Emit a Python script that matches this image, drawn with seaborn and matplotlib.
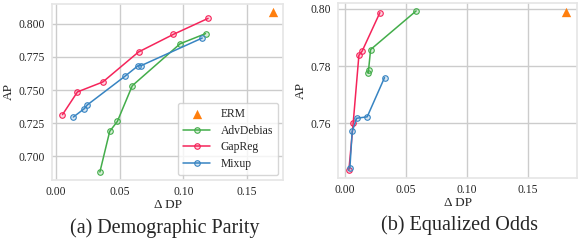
import seaborn as sns
import matplotlib.pyplot as plt
import numpy as np
import pandas as pd
from matplotlib import colors

# (a) demographic parity
dp_erm_x = [0.1698]
dp_erm_y = [0.8088]
dp_adv_x = [0.0345, 0.0422, 0.0482, 0.0599, 0.0974, 0.1173]
dp_adv_y = [0.6883, 0.7189, 0.7264, 0.7533, 0.7849, 0.7925]
dp_gap_x = [0.0052, 0.0169, 0.0368, 0.0648, 0.0922, 0.1193]
dp_gap_y = [0.7315, 0.7486, 0.7561, 0.7787, 0.7920, 0.8040]
dp_mix_x = [0.0137, 0.0223, 0.0246, 0.0544, 0.0645, 0.0668, 0.1147]
dp_mix_y = [0.7297, 0.7360, 0.7388, 0.7606, 0.7684, 0.7684, 0.7892]

# (b) equalized odds
eo_erm_x = [0.1814]
eo_erm_y = [0.7991]
eo_adv_x = [0.0191, 0.0194, 0.0211, 0.0584]
eo_adv_y = [0.7775, 0.7786, 0.7858, 0.7993]
eo_gap_x = [0.0033, 0.0068, 0.0115, 0.0142, 0.0287]
eo_gap_y = [0.7437, 0.7600, 0.7838, 0.7853, 0.7987]
eo_mix_x = [0.0041, 0.0060, 0.0096, 0.0183, 0.0325]
eo_mix_y = [0.7443, 0.7572, 0.7618, 0.7623, 0.7760]

c_erm = '#ff7f0e'
c_adv = '#43ad4a'
c_gap = '#f5245a'
c_mix = '#3784c2'

sns.set_theme(style='whitegrid', font='serif')
plt.rcParams['font.family'] = 'serif'
plt.rcParams['font.serif'] = ['Liberation Serif', 'DejaVu Serif']

fig = plt.figure(figsize=(5.81, 2.43), dpi=100)
ax1 = fig.add_axes([0.0895, 0.2593, 0.3976, 0.7242])
ax2 = fig.add_axes([0.5818, 0.2675, 0.4114, 0.7202])


def draw(ax, erm, adv, gap, mix):
    sns.scatterplot(x=erm[0], y=erm[1], ax=ax, marker='^', s=45, color=c_erm,
                    edgecolor=c_erm, linewidth=0, label='ERM', zorder=3)
    for (xs, ys), c, name in [(adv, c_adv, 'AdvDebias'), (gap, c_gap, 'GapReg'),
                              (mix, c_mix, 'Mixup')]:
        sns.lineplot(x=xs, y=ys, ax=ax, sort=False, color=c, lw=1.1, marker='o',
                     markersize=4, markeredgecolor=c, markeredgewidth=0.8,
                     markerfacecolor=colors.to_rgba(c, 0.2), label=name)
    ax.set_xlabel('\u0394 DP', fontsize=9.5, labelpad=1)
    ax.set_ylabel('AP', fontsize=9.5, labelpad=3)
    ax.tick_params(axis='x', labelsize=8.4, pad=4, length=0)
    ax.tick_params(axis='y', labelsize=8.4, pad=5, length=0)
    ax.set_xticks([0.0, 0.05, 0.10, 0.15])
    ax.xaxis.set_major_formatter(plt.FormatStrFormatter('%.2f'))
    for sp in ax.spines.values():
        sp.set_color('#e6e6e6')


draw(ax1, (dp_erm_x, dp_erm_y), (dp_adv_x, dp_adv_y), (dp_gap_x, dp_gap_y), (dp_mix_x, dp_mix_y))
draw(ax2, (eo_erm_x, eo_erm_y), (eo_adv_x, eo_adv_y), (eo_gap_x, eo_gap_y), (eo_mix_x, eo_mix_y))

ax1.set_yticks([0.700, 0.725, 0.750, 0.775, 0.800])
ax1.yaxis.set_major_formatter(plt.FormatStrFormatter('%.3f'))
ax2.set_yticks([0.76, 0.78, 0.80])
ax2.yaxis.set_major_formatter(plt.FormatStrFormatter('%.2f'))

ax1.legend(loc='lower right', fontsize=8.4, frameon=True, handlelength=2.3,
           borderpad=0.45, labelspacing=0.4, borderaxespad=0.4, handletextpad=0.9)
ax2.get_legend().remove()

ax1.text(0.49, -0.275, '(a) Demographic Parity', transform=ax1.transAxes,
         ha='center', va='center', fontsize=14.5)
ax2.text(0.51, -0.27, '(b) Equalized Odds', transform=ax2.transAxes,
         ha='center', va='center', fontsize=14.5)

fig.savefig('out.png', dpi=100)
